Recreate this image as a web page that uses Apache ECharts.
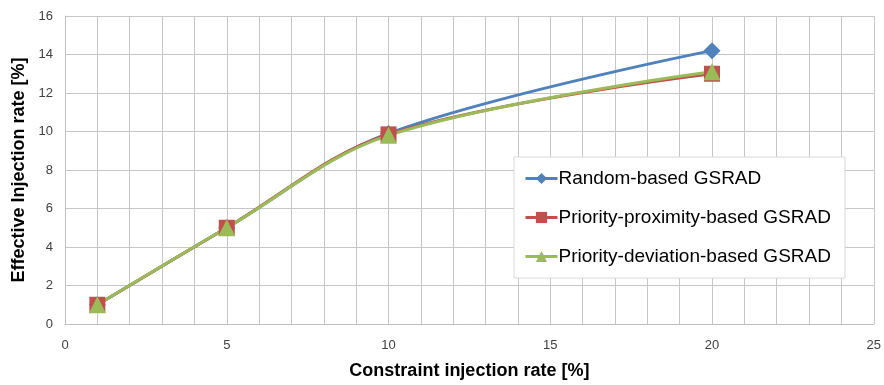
<!DOCTYPE html>
<html>
<head>
<meta charset="utf-8">
<script src="https://cdn.jsdelivr.net/npm/echarts@6/dist/echarts.min.js"></script>
<style>
  html, body { margin: 0; padding: 0; background: #fff; }
  #chart { width: 884px; height: 385px; }
</style>
</head>
<body>
<div id="chart"></div>
<script>
// Constraint injection rate (%) on the x axis
const injectionRates = [1, 5, 10, 20];
// Effective injection rate (%) per scheme
const randomBased = [1.0, 5.0, 9.9, 14.2];
const priorityProximity = [1.0, 5.0, 9.85, 13.0];
const priorityDeviation = [1.0, 5.0, 9.8, 13.1];
const seriesNames = ['Random-based GSRAD', 'Priority-proximity-based GSRAD', 'Priority-deviation-based GSRAD'];

const FONT = '"Liberation Sans", "DejaVu Sans", sans-serif';

function pairs(xs, ys) {
  return xs.map((x, i) => [x, ys[i]]);
}

const chart = echarts.init(document.getElementById('chart'), null, { renderer: 'canvas' });

function lineSeries(name, values, color, symbol, size) {
  return {
    name: name,
    type: 'line',
    data: pairs(injectionRates, values),
    smooth: 0.35,
    symbol: symbol,
    symbolSize: size,
    lineStyle: { color: color, width: 3 },
    itemStyle: { color: color },
    emphasis: { disabled: true },
    z: 3
  };
}

chart.setOption({
  animation: false,
  backgroundColor: '#ffffff',
  grid: { left: 65, right: 9, top: 16, bottom: 60, containLabel: false },
  xAxis: {
    type: 'value',
    min: 0, max: 25, interval: 5,
    name: 'Constraint injection rate [%]',
    nameLocation: 'middle',
    nameGap: 38,
    nameTextStyle: { fontFamily: FONT, fontSize: 18, fontWeight: 'bold', color: '#000' },
    axisLine: { show: true, lineStyle: { color: '#bfbfbf', width: 1 } },
    axisTick: { show: false },
    axisLabel: { fontFamily: FONT, fontSize: 13, color: '#404040', margin: 15 },
    splitLine: { show: true, lineStyle: { color: '#c6c6c6', width: 1 } },
    minorTick: { show: false, splitNumber: 5 },
    minorSplitLine: { show: true, lineStyle: { color: '#c6c6c6', width: 1 } }
  },
  yAxis: {
    type: 'value',
    min: 0, max: 16, interval: 2,
    name: 'Effective Injection rate [%]',
    nameLocation: 'middle',
    nameGap: 36,
    nameTextStyle: { fontFamily: FONT, fontSize: 18, fontWeight: 'bold', color: '#000' },
    axisLine: { show: true, lineStyle: { color: '#bfbfbf', width: 1 } },
    axisTick: { show: false },
    axisLabel: { fontFamily: FONT, fontSize: 13, color: '#404040', margin: 12 },
    splitLine: { show: true, lineStyle: { color: '#c6c6c6', width: 1 } }
  },
  legend: {
    data: seriesNames,
    orient: 'vertical',
    left: 514,
    top: 157,
    padding: [12, 14, 12, 10],
    itemGap: 20,
    itemWidth: 32,
    itemHeight: 14,
    lineStyle: { width: 3 },
    backgroundColor: '#ffffff',
    borderColor: '#d9d9d9',
    borderWidth: 1,
    textStyle: { fontFamily: FONT, fontSize: 19, color: '#000', padding: [0, 0, 0, -4] }
  },
  series: [
    lineSeries(seriesNames[0], randomBased, '#4f81bd', 'diamond', 17),
    lineSeries(seriesNames[1], priorityProximity, '#c0504d', 'rect', 16),
    lineSeries(seriesNames[2], priorityDeviation, '#9bbb59', 'triangle', 17)
  ]
});
</script>
</body>
</html>
